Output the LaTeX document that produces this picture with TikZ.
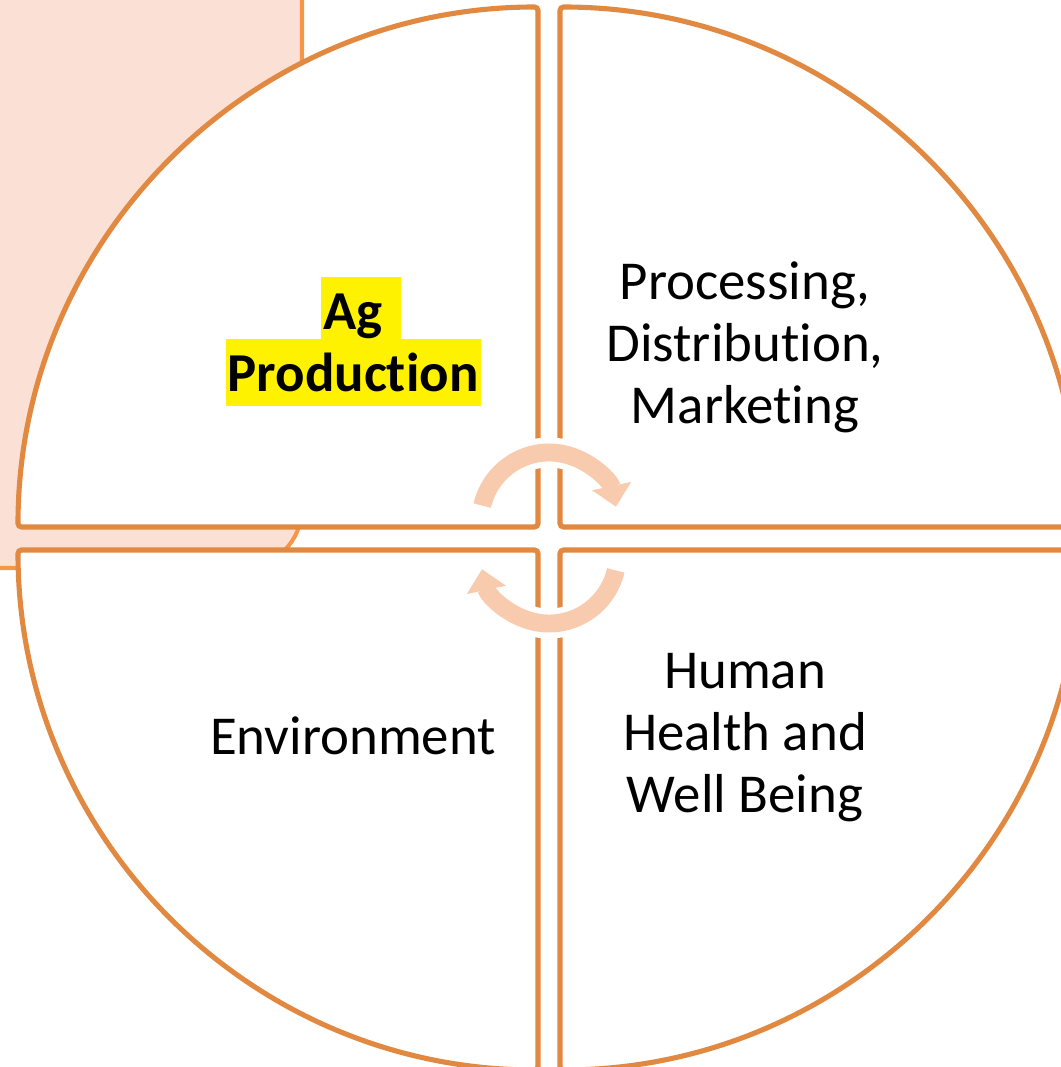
\documentclass[tikz,border=0pt]{standalone}
\usepackage{fontspec}
\setmainfont{Carlito}[Ligatures=NoCommon]
\usepackage{tikz}
\usetikzlibrary{arrows.meta}
\usepackage{xcolor}
\definecolor{quadline}{RGB}{226,137,65}
\definecolor{boxline}{RGB}{247,150,70}
\definecolor{boxfill}{RGB}{251,225,213}
\definecolor{cyclearrow}{RGB}{249,203,174}
\newcommand{\hlbox}[1]{\strut\smash{\setlength{\fboxsep}{0pt}\colorbox{yellow}{\rule[-4.3pt]{0pt}{19.1pt}\kern0.6pt#1\kern0.6pt}}}

\begin{document}
\begin{tikzpicture}[x=0.01cm, y=-0.01cm,
    quad/.style={draw=quadline, line width=1.45pt, fill=white, rounded corners=1pt},
    quadtext/.style={align=center, font=\fontsize{15.6}{17.6}\selectfont},
    cyc/.style={draw=cyclearrow, line width=5.1pt, -{Triangle[length=6pt, width=11pt]}},
    cycbg/.style={draw=white, line width=8.5pt}]
    \useasboundingbox (0,0) rectangle (1061,1067);

    % Background box
    \draw[boxline, fill=boxfill, line width=1.15pt, rounded corners=0.6cm] (-100,-200) rectangle (302,568);

    % Quadrants
    \draw[quad] (538,527) -- (18,527) arc[start angle=180, end angle=270, radius=520] -- cycle;
    \draw[quad] (560,527) -- (560,7) arc[start angle=270, end angle=360, radius=520] -- cycle;
    \draw[quad] (560,550) -- (1080,550) arc[start angle=0, end angle=90, radius=520] -- cycle;
    \draw[quad] (538,550) -- (538,1070) arc[start angle=90, end angle=180, radius=520] -- cycle;

    % Labels
    \node[quadtext, font=\fontsize{15.6}{17.6}\selectfont\bfseries] (agprod) at (353,348)
        {\hlbox{Ag}\rlap{\hlbox{\ }}\\\hlbox{Production}};
    \node[quadtext] (processing) at (745,347) {Processing,\\Distribution,\\Marketing};
    \node[quadtext] (environment) at (353,736) {Environment};
    \node[quadtext] (health) at (745,738) {Human\\Health and\\Well Being};

    % Cycle arrows
    \coordinate (topc) at (549,521);
    \coordinate (botc) at (549,555);
    \draw[cycbg] ([shift={(193:68.5)}]topc) arc[start angle=193, end angle=333, radius=68.5];
    \draw[cyc] ([shift={(193:68.5)}]topc) arc[start angle=193, end angle=348, radius=68.5];
    \draw[cycbg] ([shift={(13:68.5)}]botc) arc[start angle=13, end angle=153, radius=68.5];
    \draw[cyc] ([shift={(13:68.5)}]botc) arc[start angle=13, end angle=168, radius=68.5];
\end{tikzpicture}
\end{document}
